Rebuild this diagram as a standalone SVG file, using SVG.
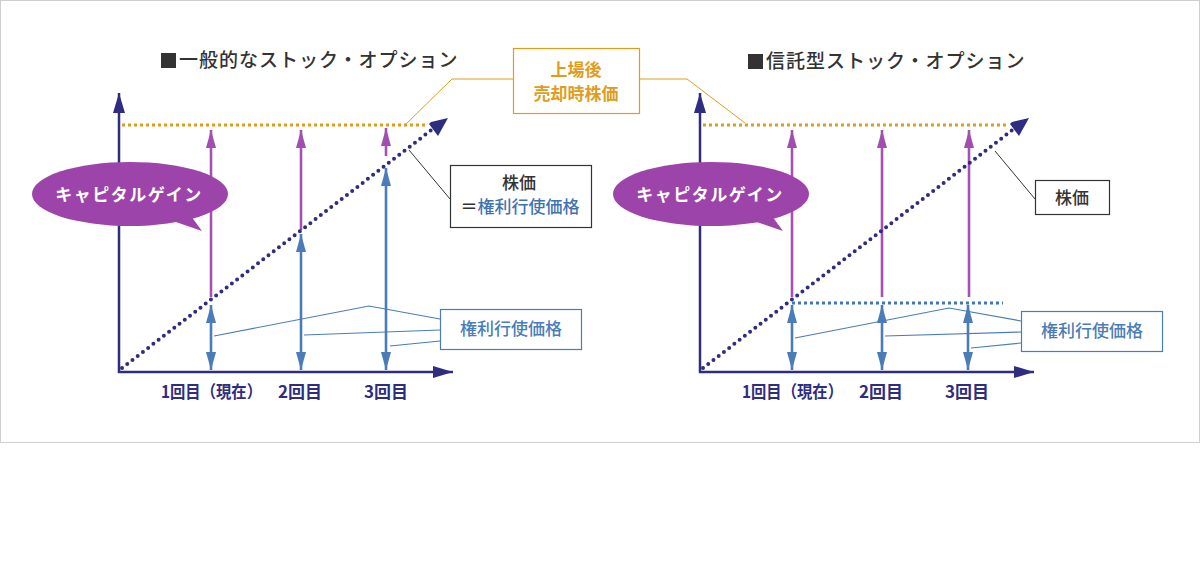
<svg xmlns="http://www.w3.org/2000/svg" width="1200" height="575" viewBox="0 0 1200 575">
<style>
.t{font-family:"Noto Sans CJK JP","Noto Sans",sans-serif;font-weight:700}
.m{font-weight:500}
.title{font-size:19px;fill:#333;letter-spacing:1px}
.axis{stroke:#2e2d7f;stroke-width:2.5;fill:none}
.diag{stroke:#2e2d7f;stroke-width:4;stroke-dasharray:0 6.6;stroke-linecap:round;fill:none}
.orng{stroke:#e09d1c;stroke-width:3;stroke-dasharray:3 3;fill:none}
.bdot{stroke:#3f78b8;stroke-width:3;stroke-dasharray:3 3;fill:none}
.pur{stroke:#a650b3;stroke-width:2.6;fill:none}
.blu{stroke:#4a7cb8;stroke-width:2.6;fill:none}
.thin{stroke:#4a7cb8;stroke-width:1.2;fill:none}
.olead{stroke:#e09d1c;stroke-width:1;fill:none}
.dlead{stroke:#333;stroke-width:1;fill:none}
.lbl{font-size:17px;fill:#2e2d7f}
.cap{font-size:17px;fill:#fff;letter-spacing:1.5px}
.box{fill:#fff;stroke-width:1.2}
</style>
<defs>
<marker id="ax" markerUnits="userSpaceOnUse" markerWidth="20" markerHeight="12" refX="20" refY="6" orient="auto-start-reverse"><path d="M0,0 L20,6 L0,12 Z" fill="#2e2d7f"/></marker>
<marker id="ap" markerUnits="userSpaceOnUse" markerWidth="18" markerHeight="10" refX="18" refY="5" orient="auto-start-reverse"><path d="M0,0 L18,5 L0,10 Z" fill="#a24eb0"/></marker>
<marker id="ab" markerUnits="userSpaceOnUse" markerWidth="18" markerHeight="10" refX="18" refY="5" orient="auto-start-reverse"><path d="M0,0 L18,5 L0,10 Z" fill="#4a7cb8"/></marker>
</defs>
<rect x="0.5" y="0.5" width="1199" height="442" fill="#fff" stroke="#cfcfcf"/>

<g id="title-left"><rect x="161" y="53" width="15" height="15" fill="#333"/><text class="t m title" x="179" y="67">一般的なストック・オプション</text></g>
<g id="title-right"><rect x="748" y="54" width="15" height="15" fill="#333"/><text class="t m title" x="766" y="68">信託型ストック・オプション</text></g>

<g id="connectors">
<!-- left chart -->
<line class="axis" x1="119" y1="373" x2="119" y2="93" marker-end="url(#ax)"/>
<line class="axis" x1="118" y1="372" x2="453" y2="372" marker-end="url(#ax)"/>
<line class="orng" x1="122" y1="125" x2="426" y2="125"/>
<line class="pur" x1="211" y1="297" x2="211" y2="130" marker-end="url(#ap)"/>
<line class="pur" x1="301" y1="230" x2="301" y2="130" marker-end="url(#ap)"/>
<line class="pur" x1="386" y1="156" x2="386" y2="128" marker-end="url(#ap)"/>
<line class="blu" x1="211" y1="370" x2="211" y2="305" marker-start="url(#ab)" marker-end="url(#ab)"/>
<line class="blu" x1="301" y1="370" x2="301" y2="234" marker-start="url(#ab)" marker-end="url(#ab)"/>
<line class="blu" x1="386" y1="370" x2="386" y2="168" marker-start="url(#ab)" marker-end="url(#ab)"/>
<line class="diag" x1="122" y1="368" x2="434" y2="128"/>
<polygon points="448,118 431,122 429,124 438,136" fill="#2e2d7f"/>
<polyline class="thin" points="440,319 369,306 214,336"/>
<line class="thin" x1="440" y1="330" x2="304" y2="335"/>
<line class="thin" x1="440" y1="341" x2="390" y2="346"/>
<line class="dlead" x1="450" y1="199" x2="409" y2="150"/>
<polyline class="olead" points="513,79 452,79 405,125"/>
<!-- right chart -->
<line class="axis" x1="700" y1="373" x2="700" y2="93" marker-end="url(#ax)"/>
<line class="axis" x1="699" y1="372" x2="1034" y2="372" marker-end="url(#ax)"/>
<line class="orng" x1="703" y1="125" x2="1007" y2="125"/>
<line class="bdot" x1="792" y1="303" x2="1003" y2="303"/>
<line class="pur" x1="792" y1="297" x2="792" y2="130" marker-end="url(#ap)"/>
<line class="pur" x1="882" y1="297" x2="882" y2="130" marker-end="url(#ap)"/>
<line class="pur" x1="969" y1="297" x2="969" y2="130" marker-end="url(#ap)"/>
<line class="blu" x1="792" y1="370" x2="792" y2="305" marker-start="url(#ab)" marker-end="url(#ab)"/>
<line class="blu" x1="882" y1="370" x2="882" y2="305" marker-start="url(#ab)" marker-end="url(#ab)"/>
<line class="blu" x1="968" y1="370" x2="968" y2="305" marker-start="url(#ab)" marker-end="url(#ab)"/>
<line class="diag" x1="703" y1="368" x2="1015" y2="128"/>
<polygon points="1029,118 1012,122 1010,124 1019,136" fill="#2e2d7f"/>
<polyline class="thin" points="1021,321 949,308 795,338"/>
<line class="thin" x1="1021" y1="332" x2="885" y2="336"/>
<line class="thin" x1="1021" y1="343" x2="971" y2="348"/>
<line class="dlead" x1="1035" y1="199" x2="995" y2="151"/>
<polyline class="olead" points="639,79 687,79 745,123"/>
</g>

<g id="bubble-left"><ellipse cx="130" cy="194" rx="98" ry="32" fill="#9c44a9"/><polygon points="170,220 202,231 188,212" fill="#9c44a9"/><text class="t cap" x="129" y="201" text-anchor="middle">キャピタルゲイン</text></g>
<g id="bubble-right"><ellipse cx="711" cy="194" rx="98" ry="32" fill="#9c44a9"/><polygon points="751,220 783,231 769,212" fill="#9c44a9"/><text class="t cap" x="710" y="201" text-anchor="middle">キャピタルゲイン</text></g>

<g id="box-listing"><rect class="box" x="513.5" y="48.5" width="126" height="65" stroke="#e09d1c"/><text class="t" font-size="17" fill="#e09d1c" x="576" y="76" text-anchor="middle">上場後</text><text class="t" font-size="17" fill="#e09d1c" x="576" y="100" text-anchor="middle">売却時株価</text></g>

<g id="box-price-left"><rect class="box" x="450.5" y="165.5" width="141" height="62" stroke="#333"/><text class="t m" font-size="17" fill="#333" x="519" y="189" text-anchor="middle">株価</text><text class="t m" font-size="17" x="520" y="213" text-anchor="middle"><tspan fill="#333">＝</tspan><tspan fill="#3f72b5">権利行使価格</tspan></text></g>
<g id="box-strike-left"><rect class="box" x="440.5" y="309.5" width="141" height="40" stroke="#4a7cb8"/><text class="t m" font-size="17" fill="#4a7cb8" x="511" y="335" text-anchor="middle">権利行使価格</text></g>

<g id="box-price-right"><rect class="box" x="1035.5" y="180.5" width="74" height="34" stroke="#333"/><text class="t m" font-size="17" fill="#333" x="1072" y="204" text-anchor="middle">株価</text></g>
<g id="box-strike-right"><rect class="box" x="1021.5" y="311.5" width="141" height="40" stroke="#4a7cb8"/><text class="t m" font-size="17" fill="#4a7cb8" x="1092" y="337" text-anchor="middle">権利行使価格</text></g>

<g id="labels-left"><text class="t lbl" x="161" y="398" textLength="101" lengthAdjust="spacingAndGlyphs">1回目（現在）</text><text class="t lbl" x="278" y="398">2回目</text><text class="t lbl" x="364" y="398">3回目</text></g>
<g id="labels-right"><text class="t lbl" x="742" y="398" textLength="101" lengthAdjust="spacingAndGlyphs">1回目（現在）</text><text class="t lbl" x="859" y="398">2回目</text><text class="t lbl" x="945" y="398">3回目</text></g>
</svg>
